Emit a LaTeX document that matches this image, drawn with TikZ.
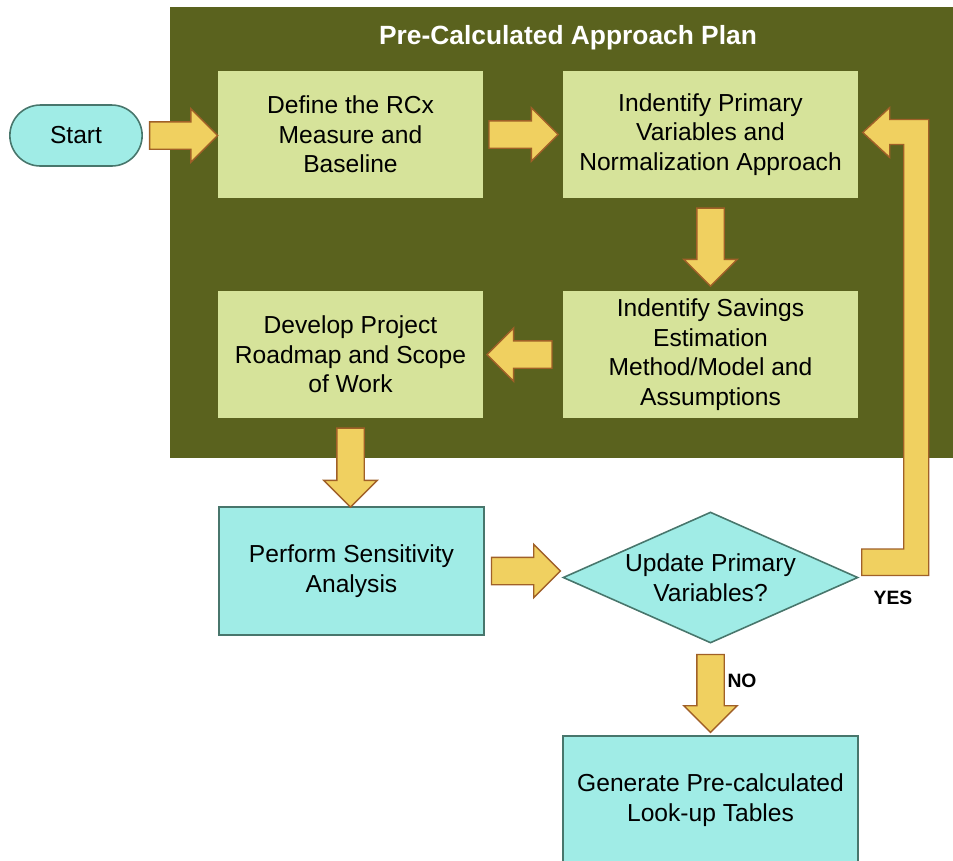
\documentclass[tikz,border=0pt]{standalone}
\usepackage{fontspec}
\setmainfont{Liberation Sans}
\usetikzlibrary{shapes.geometric,shapes.arrows,shapes.misc,calc}

\definecolor{panelgreen}{RGB}{90,98,30}
\definecolor{boxgreen}{RGB}{214,227,154}
\definecolor{boxcyan}{RGB}{160,236,230}
\definecolor{cyanline}{RGB}{72,118,108}
\definecolor{arrowfill}{RGB}{240,208,96}
\definecolor{arrowline}{RGB}{160,96,40}

\tikzset{
    txt/.style={align=center, font=\fontsize{14}{16.8}\selectfont},
    stepbox/.style={txt, rectangle, fill=boxgreen, minimum height=2.54cm, inner sep=0pt},
    cyanbox/.style={txt, rectangle, fill=boxcyan, draw=cyanline, line width=0.9pt, minimum width=5.3cm, minimum height=2.56cm},
    terminal/.style={txt, rounded rectangle, fill=boxcyan, draw=cyanline, line width=0.9pt, minimum width=2.88cm, minimum height=1.22cm},
    decision/.style={txt, diamond, fill=boxcyan, draw=cyanline, line width=0.9pt, inner sep=0pt, aspect=2.25, minimum width=5.9cm, minimum height=2.62cm},
    blockarrow/.style={single arrow, anchor=tail, draw=arrowline, fill=arrowfill, line width=0.8pt, inner xsep=0pt, inner ysep=0.26cm, single arrow head extend=0.26cm, single arrow head indent=0pt},
    downarrow/.style={blockarrow, shape border rotate=270, inner xsep=0.26cm, inner ysep=0pt},
    yesno/.style={font=\fontsize{11}{13}\selectfont\bfseries}
}

\begin{document}
\begin{tikzpicture}[x=0.02cm, y=-0.02cm]
    \useasboundingbox (0,0) rectangle (953,860);
    \fill[panelgreen] (170,7) rectangle (953,458);
    \node[txt, text=white, font=\fontsize{15}{18}\selectfont\bfseries] (title) at (568,38) {Pre-Calculated Approach Plan};

    \node[terminal] (start) at (76,135.5) {Start};
    \node[stepbox, minimum width=5.3cm] (define) at (350.5,134.5) {Define the RCx\\Measure and\\Baseline};
    \node[stepbox, minimum width=5.9cm] (primary) at (710.5,134.5) {Indentify Primary\\Variables and\\Normalization Approach};
    \node[stepbox, minimum width=5.9cm] (savings) at (710.5,354.5) {Indentify Savings\\Estimation\\Method/Model and\\Assumptions};
    \node[stepbox, minimum width=5.3cm] (roadmap) at (350.5,354.5) {Develop Project\\Roadmap and Scope\\of Work};
    \node[cyanbox] (sensitivity) at (351.5,571) {Perform Sensitivity\\Analysis};
    \node[decision] (update) at (710.5,577.5) {Update Primary\\Variables?};
    \node[cyanbox, minimum width=5.9cm] (tables) at (710.5,800) {Generate Pre-calculated\\Look-up Tables};

    \node[blockarrow, minimum height=1.36cm] (a1) at ([shift={(6,0)}]start.east) {};
    \node[blockarrow, minimum height=1.38cm] (a2) at ([shift={(5,0)}]define.east) {};
    \node[downarrow, minimum height=1.56cm] (a3) at ([shift={(0,9)}]primary.south) {};
    \node[blockarrow, minimum height=1.3cm, shape border rotate=180] (a4) at ([shift={(-10,0)}]savings.west) {};
    \node[downarrow, minimum height=1.58cm] (a5) at ([shift={(0,9)}]roadmap.south) {};
    \node[blockarrow, minimum height=1.38cm] (a6) at ([shift={(6,0)}]sensitivity.east) {};
    \node[downarrow, minimum height=1.56cm] (a7) at ([shift={(0,10)}]update.south) {};

    \draw[draw=arrowline, fill=arrowfill, line width=0.8pt, line join=miter]
        ([shift={(3,-2)}]update.east) -- ++(67,0) -- ++(0,-456) -- ++(-39,0) -- ++(0,-12)
        -- ++(-27,25) -- ++(27,25) -- ++(0,-13) -- ++(14,0) -- ++(0,404.5) -- ++(-42,0) -- cycle;

    \node[yesno] (yes) at (893,598) {YES};
    \node[yesno] (no) at (742,681) {NO};
\end{tikzpicture}
\end{document}
